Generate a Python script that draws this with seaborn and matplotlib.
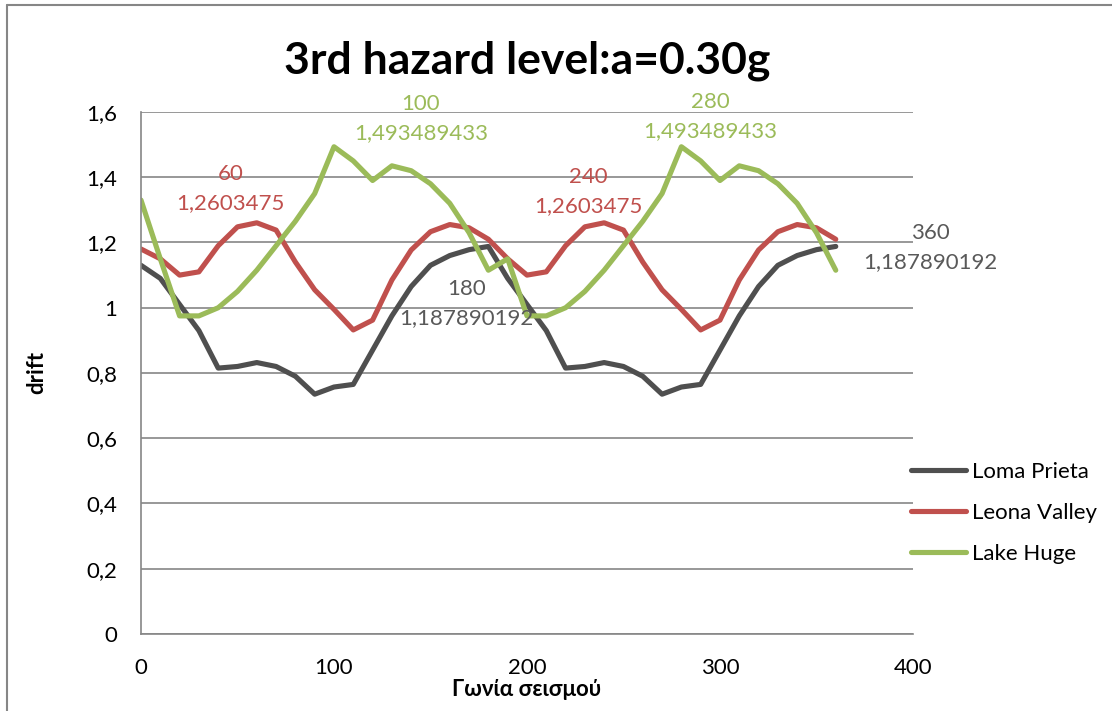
import pandas as pd
import seaborn as sns
import matplotlib.pyplot as plt
from matplotlib.lines import Line2D

# angle of the earthquake (degrees)
angles = [0, 10, 20, 30, 40, 50, 60, 70, 80, 90, 100, 110, 120, 130, 140, 150, 160, 170, 180,
          190, 200, 210, 220, 230, 240, 250, 260, 270, 280, 290, 300, 310, 320, 330, 340, 350, 360]

loma_prieta = [1.13, 1.09, 1.01, 0.93, 0.815, 0.82, 0.832, 0.82, 0.79, 0.735, 0.757, 0.765, 0.87,
               0.975, 1.065, 1.13, 1.16, 1.178, 1.187890192,
               1.09, 1.01, 0.93, 0.815, 0.82, 0.832, 0.82, 0.79, 0.735, 0.757, 0.765, 0.87,
               0.975, 1.065, 1.13, 1.16, 1.178, 1.187890192]

leona_valley = [1.18, 1.15, 1.10, 1.11, 1.19, 1.248, 1.2603475, 1.238, 1.14, 1.055, 0.995, 0.932, 0.962,
                1.085, 1.177, 1.233, 1.255, 1.245, 1.21,
                1.15, 1.10, 1.11, 1.19, 1.248, 1.2603475, 1.238, 1.14, 1.055, 0.995, 0.932, 0.962,
                1.085, 1.177, 1.233, 1.255, 1.245, 1.21]

lake_huge = [1.33, 1.15, 0.975, 0.975, 1.0, 1.05, 1.115, 1.19, 1.265, 1.35, 1.493489433, 1.45, 1.39,
             1.435, 1.42, 1.38, 1.32, 1.23, 1.115,
             1.15, 0.975, 0.975, 1.0, 1.05, 1.115, 1.19, 1.265, 1.35, 1.493489433, 1.45, 1.39,
             1.435, 1.42, 1.38, 1.32, 1.23, 1.115]

series_names = ['Loma Prieta', 'Leona Valley', 'Lake Huge']
colors = {'Loma Prieta': '#4F4F4F', 'Leona Valley': '#C0504D', 'Lake Huge': '#9BBB59'}
label_colors = {'Loma Prieta': '#595959', 'Leona Valley': '#C0504D', 'Lake Huge': '#9BBB59'}

xticks = [0, 100, 200, 300, 400]
yticks = [0, 0.2, 0.4, 0.6, 0.8, 1.0, 1.2, 1.4, 1.6]
ytick_labels = ['0', '0,2', '0,4', '0,6', '0,8', '1', '1,2', '1,4', '1,6']

# data labels: series, angle, offset in pixels
data_labels = [('Leona Valley', 60, (-26, 34)), ('Leona Valley', 240, (-16, 31)),
               ('Lake Huge', 100, (87, 28)), ('Lake Huge', 280, (29, 30)),
               ('Loma Prieta', 180, (-22, -57)), ('Loma Prieta', 360, (95, -1))]

df = pd.DataFrame({'angle': angles * 3,
                   'drift': loma_prieta + leona_valley + lake_huge,
                   'series': [n for n in series_names for _ in angles]})

sns.set_style('white')
plt.rcParams['font.family'] = ['Lato', 'Noto Sans', 'DejaVu Sans']
plt.rcParams['text.color'] = 'black'
plt.rcParams['axes.labelcolor'] = 'black'
plt.rcParams['lines.solid_joinstyle'] = 'round'
plt.rcParams['lines.solid_capstyle'] = 'round'

fig = plt.figure(figsize=(11.12, 7.11), dpi=100)
ax = fig.add_axes([0.1268, 0.1083, 0.6942, 0.7342])

sns.lineplot(data=df, x='angle', y='drift', hue='series', palette=colors,
             hue_order=series_names, linewidth=3.7, sort=False, ax=ax)

ax.set_xlim(0, 400)
ax.set_ylim(0, 1.6)
ax.set_xticks(xticks)
ax.set_xticklabels([str(t) for t in xticks])
ax.set_yticks(yticks)
ax.set_yticklabels(ytick_labels)
ax.tick_params(axis='both', length=0, labelsize=16, colors='black')
ax.tick_params(axis='y', pad=17)
ax.tick_params(axis='x', pad=17)

ax.grid(axis='y', color='#868686', linewidth=1.2)
ax.set_axisbelow(True)
for side in ['top', 'right']:
    ax.spines[side].set_visible(False)
for side in ['left', 'bottom']:
    ax.spines[side].set_color('#868686')
    ax.spines[side].set_linewidth(1.2)

ax.set_title('3rd hazard level:a=0.30g', fontsize=32, fontweight='bold', pad=28, color='black')
ax.set_xlabel('Γωνία σεισμού', fontsize=16, fontweight='bold', labelpad=1, color='black')
ax.set_ylabel('drift', fontsize=16, fontweight='bold', labelpad=28, color='black')

values = {'Loma Prieta': loma_prieta, 'Leona Valley': leona_valley, 'Lake Huge': lake_huge}
for name, ang, off in data_labels:
    val = values[name][angles.index(ang)]
    txt = f"{ang}\n{str(val).replace('.', ',')}"
    ax.annotate(txt, xy=(ang, val), xytext=off, textcoords='offset pixels',
                ha='center', va='center', fontsize=16, color=label_colors[name],
                linespacing=1.55, annotation_clip=False)

handles, labels = ax.get_legend_handles_labels()
ax.legend(handles, labels, loc='center left', bbox_to_anchor=(0.819, 0.2785),
          bbox_transform=fig.transFigure, frameon=False, fontsize=16,
          handlelength=2.5, handletextpad=0.25, labelspacing=0.95,
          borderpad=0, borderaxespad=0)

# chart area border
fig.add_artist(Line2D([7 / 1112, 7 / 1112], [0, 1 - 5 / 711], transform=fig.transFigure,
                      color='#868686', linewidth=1.5))
fig.add_artist(Line2D([7 / 1112, 1], [1 - 5 / 711, 1 - 5 / 711], transform=fig.transFigure,
                      color='#868686', linewidth=1.5))

fig.savefig('out.png', dpi=100)
